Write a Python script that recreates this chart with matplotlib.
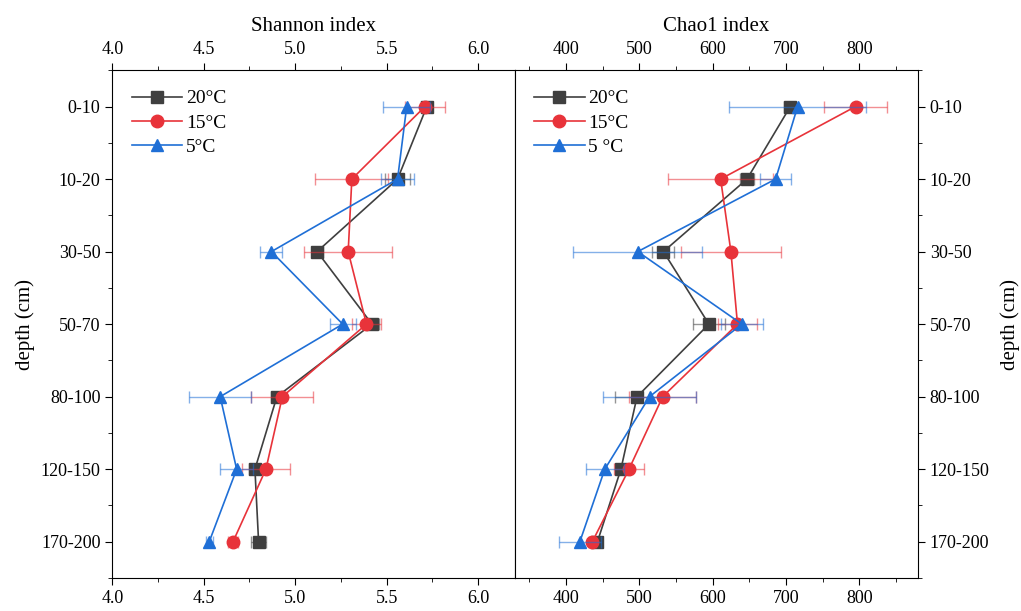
import matplotlib.pyplot as plt
import numpy as np

plt.rcParams["font.family"] = ["Liberation Serif", "DejaVu Serif"]

depths = ["0-10", "10-20", "30-50", "50-70", "80-100", "120-150", "170-200"]

# Shannon index
sh_20 = [5.72, 5.56, 5.12, 5.42, 4.90, 4.78, 4.80]
sh_20_err = [0.03, 0.07, 0.03, 0.04, 0.03, 0.03, 0.04]
sh_15 = [5.71, 5.31, 5.29, 5.39, 4.93, 4.84, 4.66]
sh_15_err = [0.11, 0.20, 0.24, 0.08, 0.17, 0.13, 0.03]
sh_5 = [5.61, 5.56, 4.87, 5.26, 4.59, 4.68, 4.53]
sh_5_err = [0.13, 0.09, 0.06, 0.07, 0.17, 0.09, 0.02]

# Chao1 index
ch_20 = [706, 647, 533, 595, 497, 475, 443]
ch_20_err = [8, 10, 15, 22, 30, 8, 6]
ch_15 = [795, 611, 625, 634, 532, 486, 436]
ch_15_err = [43, 72, 68, 26, 46, 21, 5]
ch_5 = [716, 686, 498, 640, 514, 453, 419]
ch_5_err = [93, 21, 88, 29, 64, 26, 29]

colors = ["#3f3f3f", "#e8333a", "#1f6fd6"]
markers = ["s", "o", "^"]

fig = plt.figure(figsize=(10.21, 6.11), dpi=100)
ax1 = fig.add_axes([0.110, 0.054, 0.394, 0.831])
ax2 = fig.add_axes([0.504, 0.054, 0.395, 0.831])

y = np.arange(len(depths))


def draw(ax, series, errs, labels):
    for vals, err, c, m, lab in zip(series, errs, colors, markers, labels):
        ax.errorbar(
            vals,
            y,
            xerr=err,
            fmt="none",
            ecolor=c,
            alpha=0.55,
            elinewidth=1,
            capsize=4,
            capthick=1
        )
        ax.plot(
            vals,
            y,
            color=c,
            marker=m,
            markersize=9,
            linewidth=1.2,
            label=lab
        )
    ax.set_ylim(6.5, -0.5)
    ax.set_yticks(y)
    ax.set_yticks(np.arange(-0.5, 6.6, 1.0), minor=True)
    ax.tick_params(axis="x", which="both", top=True, labeltop=True,
                   bottom=True, labelbottom=True, labelsize=13)
    ax.tick_params(axis="y", labelsize=13)
    ax.tick_params(which="major", length=5)
    ax.tick_params(which="minor", length=3)
    ax.legend(loc="upper left", frameon=False, fontsize=14,
              handlelength=2.6, handletextpad=0.2, borderaxespad=0.6,
              labelspacing=0.35)


draw(ax1, [sh_20, sh_15, sh_5], [sh_20_err, sh_15_err, sh_5_err],
     ["20°C", "15°C", "5°C"])
ax1.set_xlim(4.0, 6.2)
ax1.set_xticks([4.0, 4.5, 5.0, 5.5, 6.0])
ax1.set_xticks(np.arange(4.25, 6.2, 0.5), minor=True)
ax1.set_yticklabels(depths)
ax1.set_ylabel("depth (cm)", fontsize=15)
ax1.set_title("Shannon index", fontsize=15, pad=28)

draw(ax2, [ch_20, ch_15, ch_5], [ch_20_err, ch_15_err, ch_5_err],
     ["20°C", "15°C", "5 °C"])
ax2.set_xlim(330, 880)
ax2.set_xticks([400, 500, 600, 700, 800])
ax2.set_xticks(np.arange(350, 880, 100), minor=True)
ax2.yaxis.tick_right()
ax2.yaxis.set_label_position("right")
ax2.set_yticklabels(depths)
ax2.tick_params(axis="y", which="both", left=False)
ax2.set_ylabel("depth (cm)", fontsize=15, labelpad=8)
ax2.set_title("Chao1 index", fontsize=15, pad=28)
ax1.tick_params(axis="y", which="both", right=False)

fig.savefig("out.png", dpi=100)
